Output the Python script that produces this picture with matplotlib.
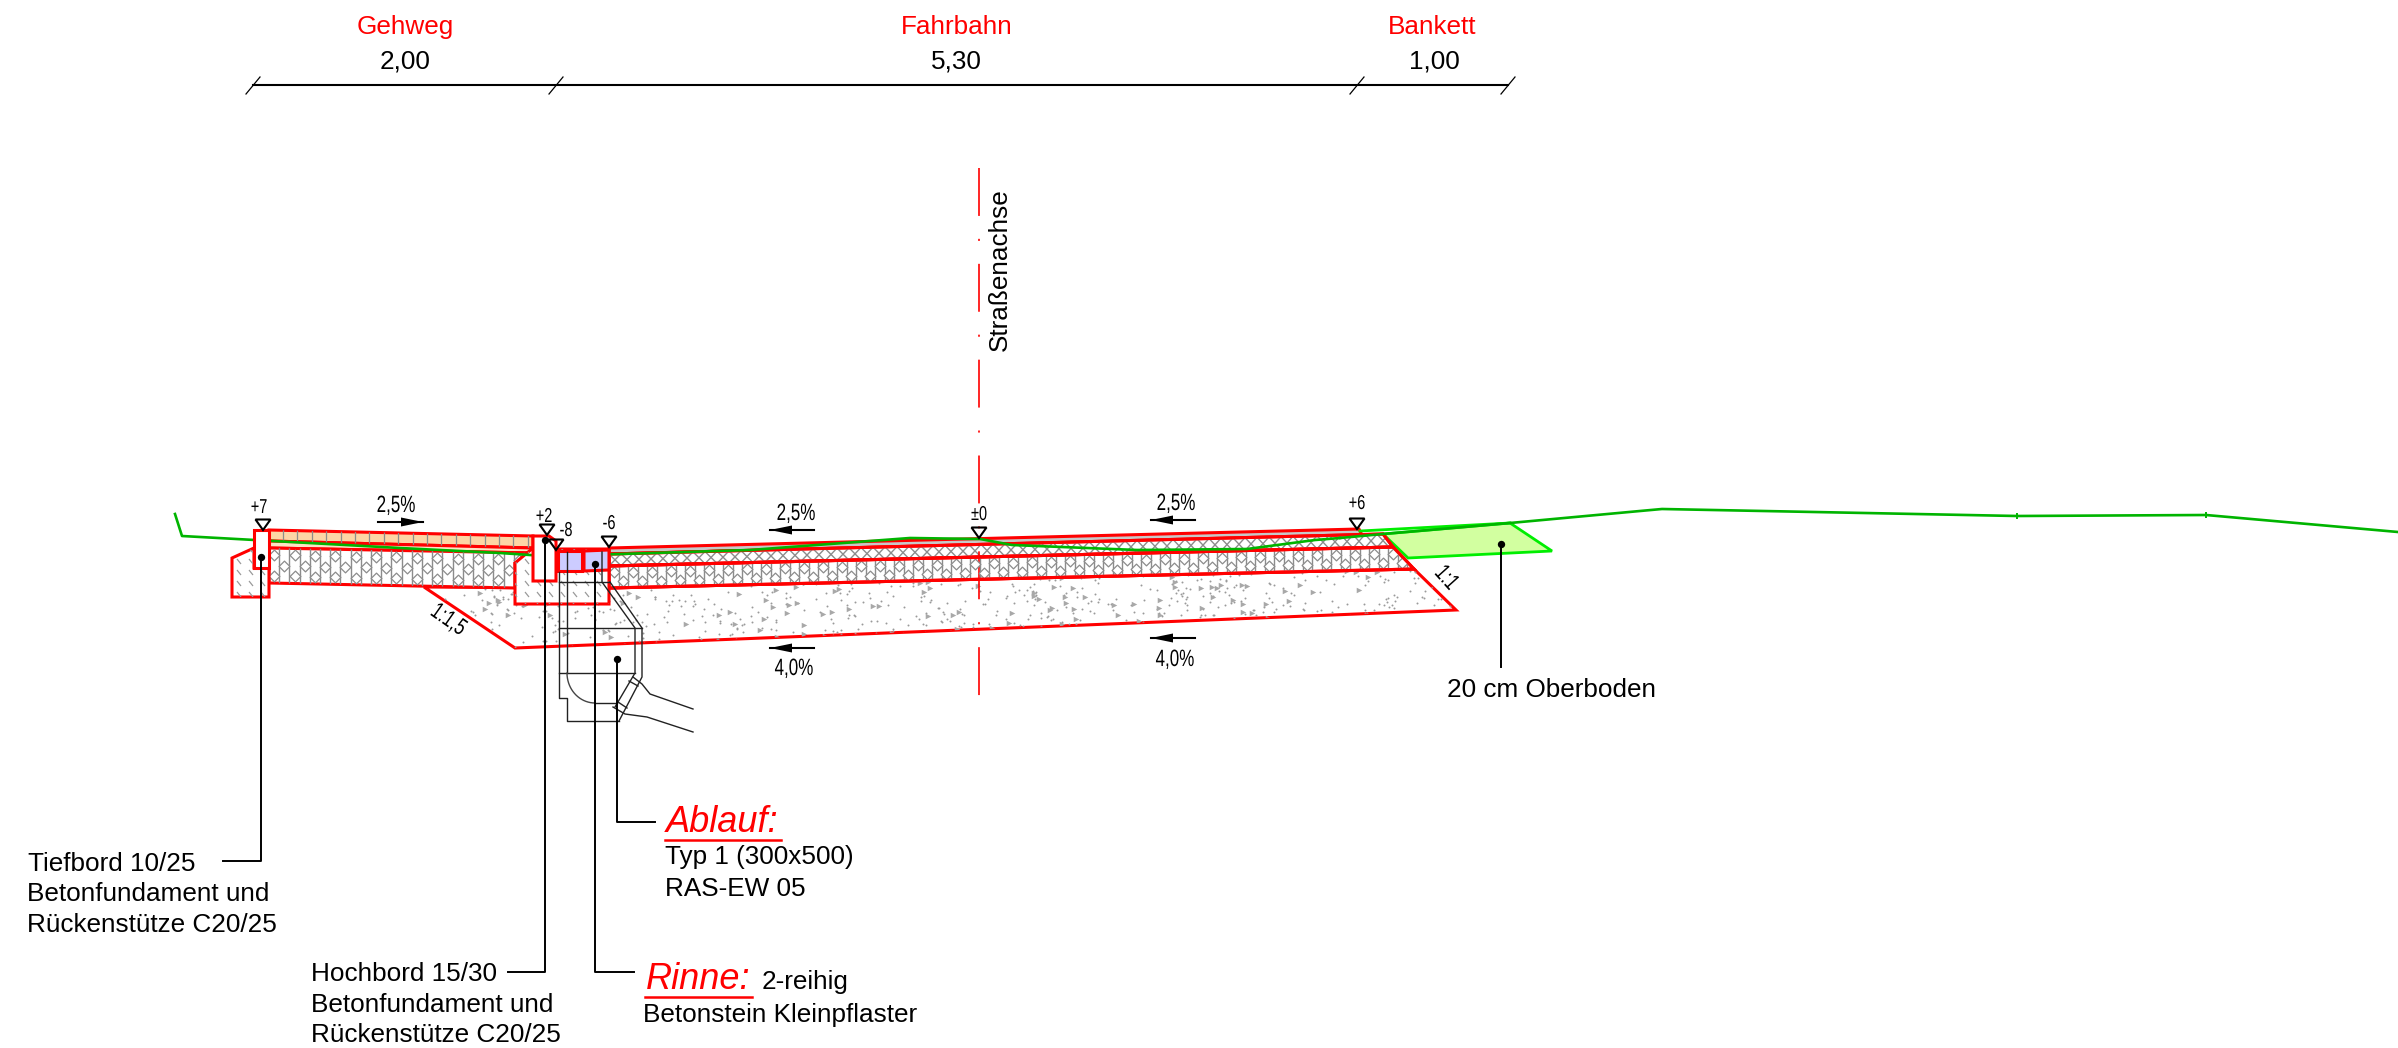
import numpy as np
import matplotlib
matplotlib.use('Agg')
import matplotlib.pyplot as plt
import matplotlib.patheffects as pe
from matplotlib.patches import Polygon
from matplotlib.collections import LineCollection
from matplotlib.transforms import Affine2D

plt.rcParams['font.family'] = ['Liberation Sans', 'DejaVu Sans']
plt.rcParams['lines.scale_dashes'] = False

# all coordinates in pixels
RED = '#ff0000'
DGREEN = '#00b400'
LGREEN = '#00ee00'
GREY = '#8c8c8c'

# cross section layers
tiefbord = [(254, 530), (269, 530), (269, 568), (254, 568)]
tiefbord_base = [(254, 548), (232, 558), (232, 597), (269, 597), (269, 568), (254, 568)]
gehweg_pave = [(269, 530), (533, 536), (533, 548), (269, 541)]
gehweg_bed = [(269, 541), (533, 548), (533, 553), (269, 548)]
gehweg_base = [(269, 548), (533, 553), (515, 563), (515, 588), (269, 583)]
hochbord = [(533, 536), (549, 536), (556, 541), (556, 581), (533, 581)]
hochbord_base = [(533, 548), (515, 563), (515, 604), (609, 604), (609, 549), (533, 549)]
rinne_a = [(558, 551), (582, 551), (582, 571), (558, 571)]
rinne_b = [(584, 551), (609, 550), (609, 570), (584, 571)]
asphalt = [(609, 548), (1359, 529), (1362, 535), (609, 554)]
road_upper = [(609, 554), (1383, 534), (1393, 547), (609, 566)]
road_lower = [(609, 566), (1393, 547), (1414, 569), (609, 588)]
frost = [(424, 587), (609, 588), (1414, 569), (1456, 610), (515, 648)]
topsoil = [(1383, 534), (1510, 523), (1552, 551), (1408, 558)]

# terrain
ground_left = [(175, 514), (182, 536), (400, 548), (500, 553), (545, 556), (620, 554), (750, 550),
               (910, 538), (980, 539), (1012, 545), (1137, 550), (1247, 549), (1315, 540), (1340, 538)]
ground_right = [(1340, 538), (1383, 534), (1510, 523), (1640, 511), (1662, 509), (2017, 516),
                (2206, 515), (2398, 532)]
ground_ticks = [(2017, 516), (2206, 515)]
topsoil_top = [(1360, 531), (1510, 523)]

# inlet outlines
inlet_lines = [
    [(559, 572), (559, 698), (567, 698), (567, 721), (619, 721)],
    [(567, 552), (567, 673)],
    [(595, 703), (617, 703)],
    [(559, 582), (609, 582)],
    [(559, 628), (642, 628)],
    [(559, 673), (635, 673)],
    [(602, 552), (602, 582), (635, 628), (635, 673), (615, 707)],
    [(610, 582), (642, 628), (642, 677), (619, 721)],
    [(633, 677), (642, 684), (650, 694), (693, 709)],
    [(613, 707), (625, 714), (647, 717), (693, 732)],
    [(629, 681), (638, 686)],
    [(618, 702), (627, 708)],
]

# top dimension chain
dim_x = [253, 556, 1357, 1508]
dim_y = 85
sections = ['Gehweg', 'Fahrbahn', 'Bankett']
section_x = [405, 957, 1432]
widths = ['2,00', '5,30', '1,00']
width_x = [405, 956, 1434]

# level marks
level_labels = ['+7', '+2', '-8', '-6', '±0', '+6']
level_x = [263, 547, 556, 609, 979, 1357]
level_tip = [530, 535, 550, 547, 538, 529]
level_text_x = [259, 544, 566, 609, 979, 1357]
level_text_y = [513, 522, 536, 529, 520, 509]

# slopes
slope_labels = ['2,5%', '2,5%', '2,5%', '4,0%', '4,0%']
slope_text_x = [396, 796, 1176, 794, 1175]
slope_text_y = [512, 520, 510, 675, 666]
arrow_tail = [378, 814, 1195, 814, 1195]
arrow_head = [423, 770, 1151, 770, 1151]
arrow_y = [522, 530, 520, 648, 638]

# leaders: dot first, then the bends
leaders = [
    [(261, 557), (261, 861), (223, 861)],
    [(545, 540), (545, 972), (508, 972)],
    [(595, 564), (595, 972), (634, 972)],
    [(617, 659), (617, 822), (655, 822)],
    [(1501, 544), (1501, 667)],
]

# plain notes: text, x, baseline
notes = [
    ('Tiefbord 10/25', 28, 871), ('Betonfundament und', 27, 901), ('Rückenstütze C20/25', 27, 932),
    ('Hochbord 15/30', 311, 981), ('Betonfundament und', 311, 1012), ('Rückenstütze C20/25', 311, 1042),
    ('Typ 1 (300x500)', 665, 864), ('RAS-EW 05', 665, 896),
    ('2-reihig', 762, 989), ('Betonstein Kleinpflaster', 643, 1022),
    ('20 cm Oberboden', 1447, 697),
]


class Narrow(pe.AbstractPathEffect):
    # the small labels in the drawing use a narrow face, none is installed
    def draw_path(self, renderer, gc, tpath, affine, rgbFace=None):
        ext = tpath.get_extents()
        mid = (ext.x0 + ext.x1) / 2
        squeeze = Affine2D().translate(-mid, 0).scale(0.72, 1).translate(mid, 0)
        renderer.draw_path(gc, tpath, squeeze + affine, rgbFace)


def outline(ax, pts, fc='white', ec=RED, lw=2.2, z=3):
    p = Polygon(pts, closed=True, facecolor=fc, edgecolor=ec, linewidth=lw, zorder=z, joinstyle='miter')
    ax.add_patch(p)
    return p


def lerp(x, x0, y0, x1, y1):
    return y0 + (y1 - y0) * (x - x0) / (x1 - x0)


def diamond_layer(ax, clip, x0, x1, dx, top, bottom, rows, s=30):
    xs = np.arange(x0, x1, dx)
    segs = [[(x, 500), (x, 640)] for x in xs]
    lc = LineCollection(segs, colors=GREY, linewidths=1.0, zorder=2)
    ax.add_collection(lc)
    lc.set_clip_path(clip)
    px, py = [], []
    for i, frac in enumerate(rows):
        xr = np.arange(x0 + dx / 2 + (i % 2) * dx, x1, 2 * dx)
        yt = lerp(xr, *top)
        yb = lerp(xr, *bottom)
        px.extend(xr)
        py.extend(yt + frac * (yb - yt))
    sc = ax.scatter(px, py, marker='D', s=s, facecolor='white', edgecolor=GREY, linewidth=0.9, zorder=2.1)
    sc.set_clip_path(clip)


def hash01(n, seed):
    # fixed scatter for the gravel texture
    v = np.sin(n * 12.9898 + seed * 78.233) * 43758.5453
    return v - np.floor(v)


fig = plt.figure(figsize=(23.98, 10.48), dpi=100)
ax = fig.add_axes([0, 0, 1, 1])
ax.set_xlim(0, 2398)
ax.set_ylim(1048, 0)
ax.axis('off')

# gravel layer texture
p_frost = outline(ax, frost, z=1)
n = np.arange(1, 800)
sc = ax.scatter(424 + 1032 * hash01(n, 1), 569 + 80 * hash01(n, 2), s=2, color='#9a9a9a', linewidth=0, zorder=1.1)
sc.set_clip_path(p_frost)
m = np.arange(1, 170)
sc = ax.scatter(424 + 1032 * hash01(m, 3), 569 + 80 * hash01(m, 4), s=16, marker='>', color='#a8a8a8', linewidth=0, zorder=1.1)
sc.set_clip_path(p_frost)

# gehweg
p = outline(ax, gehweg_pave, fc='#fdd5a5', z=1.5)
lc = LineCollection([[(x, 525), (x, 550)] for x in np.arange(283, 533, 14.4)], colors=GREY, linewidths=0.9, zorder=1.6)
ax.add_collection(lc)
lc.set_clip_path(p)
outline(ax, gehweg_bed, fc='#fde3c5', z=1.5)
p = outline(ax, gehweg_base, z=1.5)
diamond_layer(ax, p, 269, 540, 10.2, (269, 548, 533, 553), (269, 583, 533, 588), [0.2, 0.5, 0.8])

# road layers
outline(ax, asphalt, fc='#c8c8c8', z=1.5)
p = outline(ax, road_upper, z=1.5)
xs = np.arange(609, 1395, 12.0)
segs = []
for x in xs:
    segs.append([(x, lerp(x, 609, 554, 1383, 534)), (x + 12, lerp(x + 12, 609, 566, 1393, 547))])
    segs.append([(x + 12, lerp(x + 12, 609, 554, 1383, 534)), (x, lerp(x, 609, 566, 1393, 547))])
lc = LineCollection(segs, colors=GREY, linewidths=1.0, zorder=1.7)
ax.add_collection(lc)
lc.set_clip_path(p)
outline(ax, road_upper, fc='none', z=2.5)
p = outline(ax, road_lower, z=1.5)
diamond_layer(ax, p, 609, 1420, 9.5, (609, 566, 1393, 547), (609, 588, 1393, 569), [0.3, 0.72])
outline(ax, road_lower, fc='none', z=2.5)

# foundations with short dashes
for pts in [tiefbord_base, hochbord_base]:
    p = outline(ax, pts, z=2.6)
    gxs, gys = np.meshgrid(np.arange(225, 615, 12.0), np.arange(548, 606, 11.0))
    segs = [[(x, y), (x + 4, y + 5)] for x, y in zip(gxs.ravel(), gys.ravel())]
    lc = LineCollection(segs, colors='#9a9a9a', linewidths=0.9, zorder=2.7)
    ax.add_collection(lc)
    lc.set_clip_path(p)

outline(ax, topsoil, fc='#d2ffa0', ec=LGREEN, lw=2.0, z=1.4)

# terrain line
ax.plot(*zip(*ground_left), color=DGREEN, lw=1.9, zorder=2.8)
ax.plot(*zip(*topsoil_top), color=LGREEN, lw=2.0, zorder=2.8)
ax.plot(*zip(*ground_right), color=DGREEN, lw=1.9, zorder=2.8)
ax.plot(*zip(*ground_ticks), ls='none', marker='|', ms=4, mew=1.4, color=DGREEN, zorder=2.8)

# kerbs and gutter on top
outline(ax, tiefbord, z=4)
outline(ax, hochbord, z=4)
outline(ax, rinne_a, fc='#ccccff', z=4)
outline(ax, rinne_b, fc='#ccccff', z=4)

# inlet
for line in inlet_lines:
    ax.plot(*zip(*line), color='#222222', lw=1.0, zorder=5)
t = np.linspace(np.pi, np.pi / 2, 20)
ax.plot(595 + 28 * np.cos(t), 673 + 30 * np.sin(t), color='#444444', lw=1.0, zorder=5)

# centre line
ax.plot([979, 979], [168, 696], color=RED, lw=1.2, dashes=(34.5, 16.5, 1.5, 16.5), zorder=1.8, solid_capstyle='butt', dash_capstyle='butt')
ax.text(1000, 270, 'Straßenachse', rotation=90, ha='center', va='center', fontsize=18.8, color='black')

# dimension chain
ax.plot([dim_x[0], dim_x[-1]], [dim_y, dim_y], color='black', lw=1.5)
for x in dim_x:
    ax.plot([x - 7, x + 7], [dim_y + 9, dim_y - 8], color='black', lw=0.9)
for s, x in zip(sections, section_x):
    ax.text(x, 34, s, color=RED, ha='center', va='baseline', fontsize=18.8)
for s, x in zip(widths, width_x):
    ax.text(x, 68, s, color='black', ha='center', va='baseline', fontsize=18.8)

# level marks
for lab, x, tip, tx, ty in zip(level_labels, level_x, level_tip, level_text_x, level_text_y):
    ax.add_patch(Polygon([(x - 7.5, tip - 10.5), (x + 7.5, tip - 10.5), (x, tip)], closed=True,
                         facecolor='none', edgecolor='black', linewidth=1.5, zorder=6))
    ax.text(tx, ty, lab, ha='center', va='baseline', fontsize=14.5, zorder=6, path_effects=[Narrow()])

# slope arrows
for lab, tx, ty, a0, a1, ay in zip(slope_labels, slope_text_x, slope_text_y, arrow_tail, arrow_head, arrow_y):
    ax.text(tx, ty, lab, ha='center', va='baseline', fontsize=17, zorder=6, path_effects=[Narrow()])
    ax.plot([a0, a1], [ay, ay], color='black', lw=1.5, zorder=6)
    base = a1 - np.sign(a1 - a0) * 22
    ax.fill([a1, base, base], [ay, ay - 4.5, ay + 4.5], color='black', zorder=6, linewidth=0)

ax.text(448, 620, '1:1,5', ha='center', va='center', rotation=-35, fontsize=17, zorder=6, path_effects=[Narrow()])
ax.text(1446, 578, '1:1', ha='center', va='center', rotation=-48, fontsize=17, zorder=6, path_effects=[Narrow()])

# leaders
for pts in leaders:
    ax.plot(*zip(*pts), color='black', lw=1.4, zorder=7)
    ax.scatter([pts[0][0]], [pts[0][1]], s=28, color='black', linewidth=0, zorder=8)

for s, x, y in notes:
    ax.text(x, y, s, ha='left', va='baseline', fontsize=18.8, color='black')

ax.text(666, 832, 'Ablauf:', color=RED, style='italic', fontsize=26, ha='left', va='baseline')
ax.plot([665, 781], [840, 840], color=RED, lw=1.8)
ax.text(646, 989, 'Rinne:', color=RED, style='italic', fontsize=26, ha='left', va='baseline')
ax.plot([645, 752], [997, 997], color=RED, lw=1.8)

fig.savefig('out.png', dpi=100, facecolor='white')
